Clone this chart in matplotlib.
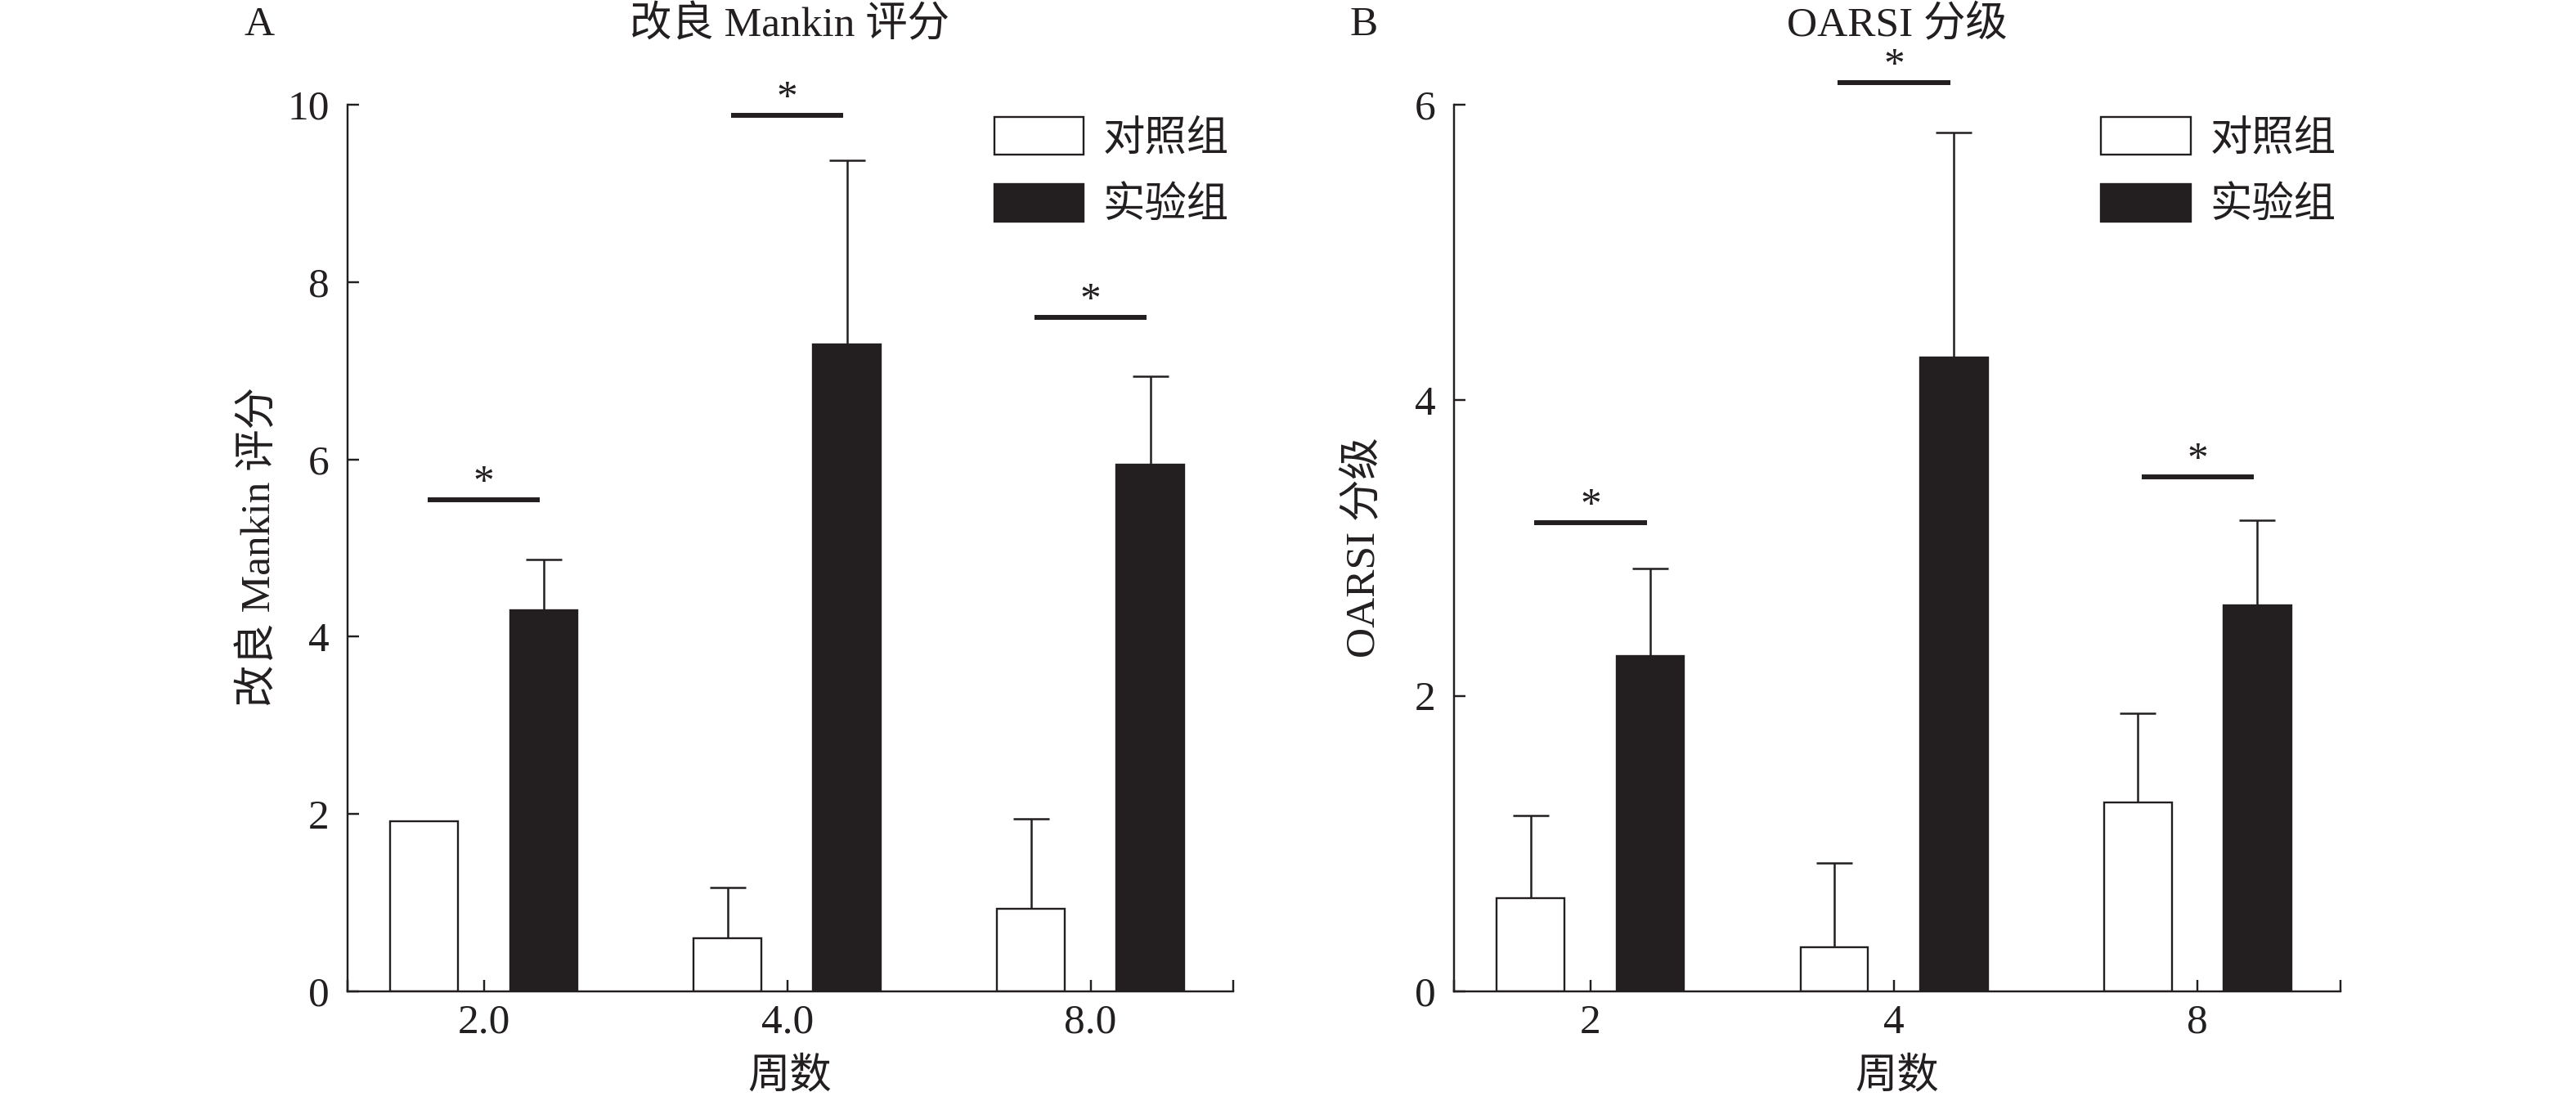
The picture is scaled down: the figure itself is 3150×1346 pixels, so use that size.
import numpy as np
import matplotlib
matplotlib.use('Agg')
import matplotlib.pyplot as plt

# ----------------------------- Data -----------------------------
weeks_a = ['2.0', '4.0', '8.0']
weeks_b = ['2', '4', '8']
groups = ['对照组', '实验组']

# A: modified Mankin score
mankin_ctrl = [1.92, 0.60, 0.93]
mankin_ctrl_err = [None, 0.57, 1.02]
mankin_exp = [4.30, 7.30, 5.94]
mankin_exp_err = [0.57, 2.07, 1.00]
mankin_sig = [5.54, 9.88, 7.60]

# B: OARSI grade
oarsi_ctrl = [0.63, 0.30, 1.28]
oarsi_ctrl_err = [0.56, 0.57, 0.60]
oarsi_exp = [2.27, 4.29, 2.61]
oarsi_exp_err = [0.59, 1.52, 0.58]
oarsi_sig = [3.17, 6.15, 3.48]

ink = '#231f20'
fs = 37

plt.rcParams['font.family'] = ['Liberation Serif', 'Noto Sans CJK SC']
plt.rcParams['font.size'] = fs
plt.rcParams['text.color'] = ink
plt.rcParams['axes.edgecolor'] = ink
plt.rcParams['xtick.color'] = ink
plt.rcParams['ytick.color'] = ink

fig = plt.figure(figsize=(31.5, 13.46), dpi=100)
W, H = 3150, 1346


def panel(rect, labels, ctrl, ctrl_err, exp, exp_err, sig, ymax, yticks):
    ax = fig.add_axes(rect)
    x = np.arange(len(labels))
    off, w = 0.197, 0.223
    ax.bar(x - off, ctrl, w, color='white', edgecolor=ink, linewidth=1.7, label=groups[0], zorder=2)
    ax.bar(x + off, exp, w, color=ink, edgecolor=ink, linewidth=1.7, label=groups[1], zorder=2)
    for xs, vals, errs in [(x - off, ctrl, ctrl_err), (x + off, exp, exp_err)]:
        for xi, v, e in zip(xs, vals, errs):
            if e is None:
                continue
            ax.errorbar([xi], [v], yerr=[[0], [e]], fmt='none', ecolor=ink,
                        elinewidth=1.8, capsize=16, capthick=1.8, zorder=1)
    for xi, h in zip(x, sig):
        ax.plot([xi - 0.185, xi + 0.185], [h, h], color=ink, lw=4.3,
                solid_capstyle='butt', clip_on=False)
        ax.annotate('*', (xi, h), xytext=(0, 6), textcoords='offset points',
                    ha='center', va='baseline', fontsize=fs, annotation_clip=False)
    ax.set_xlim(-0.45, 2.47)
    ax.set_ylim(0, ymax)
    ax.set_yticks(yticks)
    ax.set_xticks(x)
    ax.set_xticklabels(labels)
    ax.set_xticks([-0.45, 2.47], minor=True)
    ax.spines['top'].set_visible(False)
    ax.spines['right'].set_visible(False)
    for s in ['left', 'bottom']:
        ax.spines[s].set_linewidth(1.75)
    ax.tick_params(axis='both', which='both', direction='in', length=10, width=1.75)
    ax.tick_params(axis='x', which='major', pad=11)
    ax.tick_params(axis='y', pad=16)
    ax.legend(loc='upper left', bbox_to_anchor=(0.730, 0.986), frameon=False,
              borderpad=0, borderaxespad=0, handlelength=2.14, handleheight=1.0,
              handletextpad=0.45, labelspacing=0.58, fontsize=fs)
    return ax


ax_a = panel([0.1349, 0.0996, 0.3438, 0.8053], weeks_a, mankin_ctrl, mankin_ctrl_err,
             mankin_exp, mankin_exp_err, mankin_sig, 10, [0, 2, 4, 6, 8, 10])
ax_b = panel([0.5644, 0.0996, 0.3441, 0.8053], weeks_b, oarsi_ctrl, oarsi_ctrl_err,
             oarsi_exp, oarsi_exp_err, oarsi_sig, 6, [0, 2, 4, 6])

# titles, panel letters, axis labels
fig.text(317 / W, 1 - 31 / H, 'A', ha='center', va='center')
fig.text(1668 / W, 1 - 31 / H, 'B', ha='center', va='center')
fig.text(966 / W, 1 - 31 / H, '改良 Mankin 评分', ha='center', va='center')
fig.text(2320 / W, 1 - 31 / H, 'OARSI 分级', ha='center', va='center')
fig.text(317 / W, 1 - 669 / H, '改良 Mankin 评分', ha='center', va='center', rotation=90)
fig.text(1668 / W, 1 - 669 / H, 'OARSI 分级', ha='center', va='center', rotation=90)
fig.text(966 / W, 1 - 1316 / H, '周数', ha='center', va='center')
fig.text(2320 / W, 1 - 1316 / H, '周数', ha='center', va='center')

fig.savefig('out.png', dpi=100, facecolor='white')
